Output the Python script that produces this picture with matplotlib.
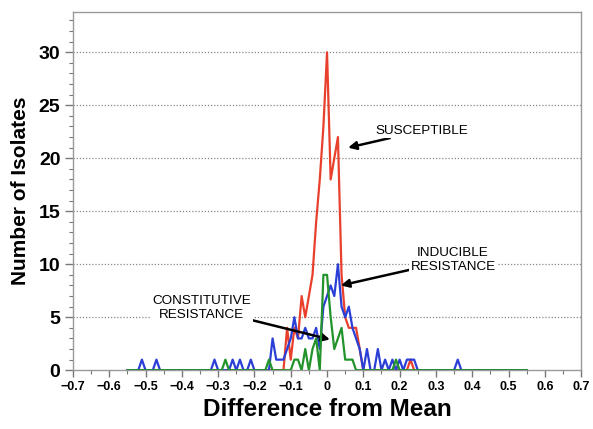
import matplotlib
matplotlib.use('Agg')
import matplotlib.pyplot as plt
import numpy as np

plt.rcParams['font.family'] = ['Liberation Sans', 'DejaVu Sans']
plt.rcParams['font.weight'] = 'bold'

# bins of the difference from the mean, in hundredths
bins = np.arange(-55, 56) / 100

# non-empty bins for each phenotype (difference, number of isolates)
susceptible_x = [-0.11, -0.10, -0.09, -0.08, -0.07, -0.06, -0.05, -0.04, -0.03,
                 -0.02, -0.01, 0.00, 0.01, 0.02, 0.03, 0.04, 0.05, 0.06, 0.07,
                 0.08, 0.09, 0.23]
susceptible_n = [4, 1, 4, 3, 7, 5, 7, 9, 14, 18, 23, 30, 18, 20, 22, 9, 5, 4, 4,
                 4, 2, 1]

inducible_x = [-0.51, -0.47, -0.31, -0.26, -0.24, -0.21, -0.15, -0.14, -0.13,
               -0.12, -0.11, -0.10, -0.09, -0.08, -0.07, -0.06, -0.05, -0.04,
               -0.03, -0.02, -0.01, 0.00, 0.01, 0.02, 0.03, 0.04, 0.05, 0.06,
               0.07, 0.08, 0.09, 0.11, 0.14, 0.16, 0.18, 0.20, 0.22, 0.23, 0.24,
               0.36]
inducible_n = [1, 1, 1, 1, 1, 1, 3, 1, 1, 1, 2, 3, 5, 3, 3, 4, 3, 3, 4, 2, 6, 7,
               8, 7, 10, 6, 5, 6, 4, 3, 2, 2, 2, 1, 1, 1, 1, 1, 1, 1]

constitutive_x = [-0.28, -0.16, -0.09, -0.08, -0.06, -0.04, -0.03, -0.01, 0.00,
                  0.01, 0.02, 0.03, 0.04, 0.05, 0.06, 0.07, 0.19]
constitutive_n = [1, 1, 1, 1, 2, 2, 3, 9, 9, 5, 2, 3, 4, 1, 1, 1, 1]


def counts(xs, ns):
    y = np.zeros(len(bins))
    idx = np.rint(np.array(xs) * 100).astype(int) + 55
    y[idx] = ns
    return y


fig = plt.figure(figsize=(5.93, 4.29), dpi=100)
ax = fig.add_axes([0.123, 0.137, 0.857, 0.835])

for y in range(5, 35, 5):
    ax.axhline(y, color='#888888', linestyle=(0, (1, 1.5)), linewidth=0.9,
               zorder=0)

ax.plot(bins, counts(susceptible_x, susceptible_n), color='#e8402c', lw=1.6,
        zorder=2)
ax.plot(bins, counts(inducible_x, inducible_n), color='#2b3fd6', lw=1.6,
        zorder=3)
ax.plot(bins, counts(constitutive_x, constitutive_n), color='#23932b', lw=1.6,
        zorder=4)

ax.set_xlim(-0.7, 0.7)
ax.set_ylim(0, 33.8)
ax.set_xticks(np.arange(-7, 8) / 10)
ax.set_xticklabels(['0' if t == 0 else f'{t/10:.1f}'.replace('-', '\u2212')
                    for t in range(-7, 8)])
ax.set_xticks(np.arange(-70, 71, 5) / 100, minor=True)
ax.set_yticks(range(0, 31, 5))
ax.set_yticks(range(0, 34), minor=True)
ax.tick_params(axis='x', labelsize=9, length=5, width=1, color='#777777',
               pad=3)
ax.tick_params(axis='y', labelsize=14, length=6, width=1, color='#777777',
               pad=3)
ax.tick_params(which='minor', length=3, width=0.8, color='#777777')
for s in ax.spines.values():
    s.set_color('#999999')
    s.set_linewidth(1)

ax.set_xlabel('Difference from Mean', fontsize=17.5, fontweight='bold',
              labelpad=3)
ax.set_ylabel('Number of Isolates', fontsize=15, fontweight='bold', labelpad=6)

arrow = dict(arrowstyle='-|>', color='black', lw=1.8, mutation_scale=12,
             shrinkA=0, shrinkB=0)
box = dict(facecolor='white', edgecolor='none', pad=1)
ax.annotate('SUSCEPTIBLE', xy=(0.058, 21.0), xytext=(0.133, 22.6),
            fontsize=9.7, fontweight='normal', ha='left', va='center',
            arrowprops=arrow, bbox=box)
ax.annotate('INDUCIBLE\nRESISTANCE', xy=(0.038, 8.0), xytext=(0.347, 10.4),
            fontsize=9.7, fontweight='normal', ha='center', va='center',
            linespacing=1.25, arrowprops=arrow, bbox=box)
ax.annotate('CONSTITUTIVE\nRESISTANCE', xy=(0.008, 2.9), xytext=(-0.345, 5.9),
            fontsize=9.7, fontweight='normal', ha='center', va='center',
            linespacing=1.25, arrowprops=arrow, bbox=box)

fig.savefig('out.png', dpi=100)
